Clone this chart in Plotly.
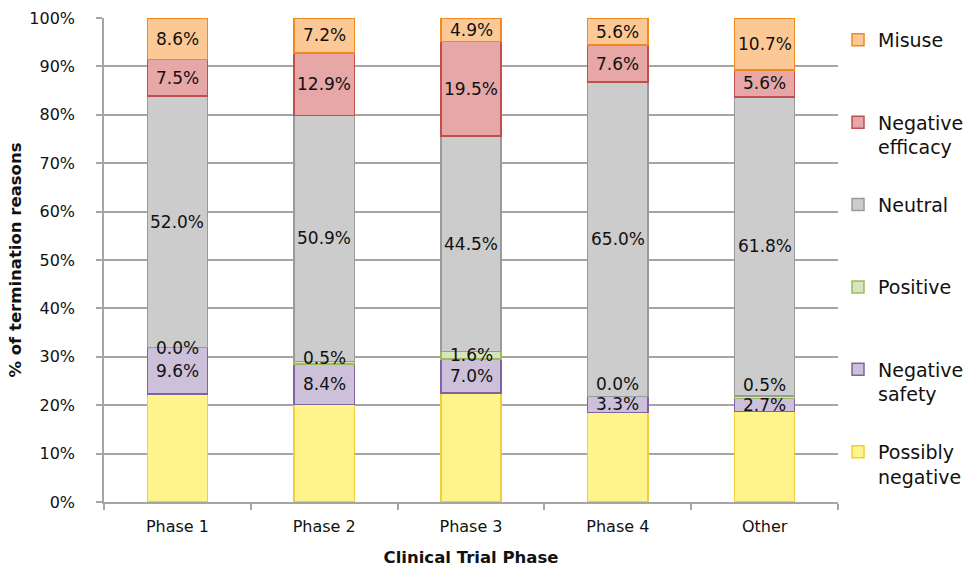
import plotly.graph_objects as go

phases = ["Phase 1", "Phase 2", "Phase 3", "Phase 4", "Other"]

# stacking order bottom -> top
possibly_negative = [22.3, 20.1, 22.5, 18.5, 18.7]
negative_safety = [9.6, 8.4, 7.0, 3.3, 2.7]
positive = [0.0, 0.5, 1.6, 0.0, 0.5]
neutral = [52.0, 50.9, 44.5, 65.0, 61.8]
negative_efficacy = [7.5, 12.9, 19.5, 7.6, 5.6]
misuse = [8.6, 7.2, 4.9, 5.6, 10.7]

series = [
    ("Possibly<br>negative", possibly_negative, "#FFF38C", "#F2CE3A", False),
    ("Negative<br>safety", negative_safety, "#CCC0DA", "#8064A2", True),
    ("Positive<br> ", positive, "#D7E4BD", "#9BBB59", True),
    ("Neutral<br> ", neutral, "#CCCCCC", "#9A9A9A", True),
    ("Negative<br>efficacy", negative_efficacy, "#E6A7A6", "#C0504D", True),
    ("Misuse<br> ", misuse, "#FCC996", "#F08A1E", True),
]

# small upward nudges (px) for the crowded "Positive" labels
positive_label_nudge = [0, 5, 0, 12, 12]

FONT = "DejaVu Sans"
fig = go.Figure()
annotations = []
cum = [0.0] * len(phases)
n = len(series)
for i, (name, vals, fill, edge, labelled) in enumerate(series):
    fig.add_trace(go.Bar(
        x=phases, y=vals, name=name, legendgroup=name, legendrank=n - i,
        marker=dict(color=fill, line=dict(color=edge, width=1.5)),
        width=0.41,
    ))
    for j, v in enumerate(vals):
        mid = cum[j] + v / 2
        if labelled:
            annotations.append(dict(
                x=phases[j], y=mid, xref="x", yref="y",
                text=f"{v:.1f}%", showarrow=False,
                font=dict(family=FONT, size=17, color="#111"),
                yshift=positive_label_nudge[j] if name.startswith("Positive") else 0,
            ))
        cum[j] += v

fig.update_layout(
    width=966, height=571,
    margin=dict(l=104, r=128, t=18, b=69, autoexpand=False),
    paper_bgcolor="white", plot_bgcolor="white",
    barmode="stack",
    font=dict(family=FONT, size=16, color="#111"),
    annotations=annotations,
    showlegend=True,
    legend=dict(
        x=1.0, xanchor="left", y=0.994, yanchor="top",
        traceorder="grouped", tracegroupgap=30,
        valign="top",
        font=dict(family=FONT, size=19, color="#111"),
        itemclick=False,
    ),
    xaxis=dict(
        range=[-0.5, 4.5],
        showline=True, linecolor="#A5A5A5", linewidth=1.5,
        ticks="outside", tickson="boundaries", ticklen=6, tickcolor="#A5A5A5", tickwidth=1.5,
        tickfont=dict(family=FONT, size=16, color="#111"),
        ticklabelstandoff=9,
        title=dict(text="<b>Clinical Trial Phase</b>", font=dict(family=FONT, size=16.5, color="#111"), standoff=16),
        showgrid=False,
    ),
    yaxis=dict(
        range=[0, 100],
        tickvals=[0, 10, 20, 30, 40, 50, 60, 70, 80, 90, 100],
        ticktext=["0%", "10%", "20%", "30%", "40%", "50%", "60%", "70%", "80%", "90%", "100%"],
        showline=True, linecolor="#A5A5A5", linewidth=1.5,
        ticks="outside", ticklen=6, tickcolor="#A5A5A5", tickwidth=1.5,
        showgrid=True, gridcolor="#A5A5A5", gridwidth=1.5,
        zeroline=False,
        tickfont=dict(family=FONT, size=16, color="#111"),
        ticklabelstandoff=18,
        title=dict(text="<b>% of termination reasons</b>", font=dict(family=FONT, size=16.5, color="#111"), standoff=4),
    ),
)

fig.write_html(
    "out.html",
    config={"displayModeBar": False},
    post_script="document.body.style.margin='0';",
)
